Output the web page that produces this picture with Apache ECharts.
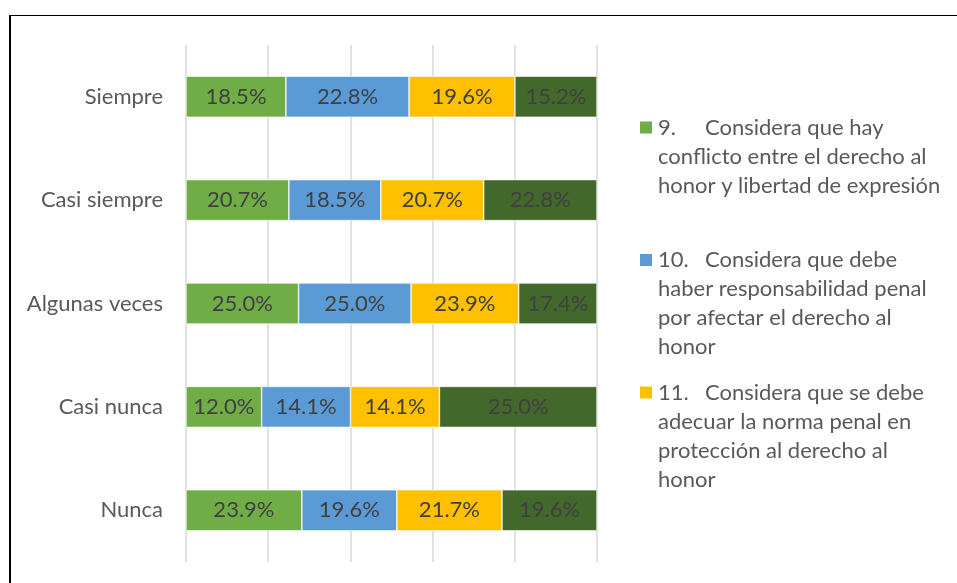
<!DOCTYPE html>
<html>
<head>
<meta charset="utf-8">
<script src="https://cdn.jsdelivr.net/npm/echarts@6/dist/echarts.min.js"></script>
<style>
  html, body { margin: 0; padding: 0; background: #fff; }
  #wrap { position: relative; width: 957px; height: 583px; overflow: hidden; }
  #frame { position: absolute; left: 9px; top: 15px; width: 1200px; height: 1200px;
           border-top: 1px solid #000; border-left: 2px solid #000; }
  #chart { position: absolute; left: 0; top: 0; width: 957px; height: 583px; }
</style>
</head>
<body>
<div id="wrap">
  <div id="frame"></div>
  <div id="chart"></div>
</div>
<script>
// categorias (de arriba a abajo)
const categories = ['Siempre', 'Casi siempre', 'Algunas veces', 'Casi nunca', 'Nunca'];
// valores por pregunta
const p9 = [18.5, 20.7, 25.0, 12.0, 23.9];
const p10 = [22.8, 18.5, 25.0, 14.1, 19.6];
const p11 = [19.6, 20.7, 23.9, 14.1, 21.7];
const p12 = [15.2, 22.8, 17.4, 25.0, 19.6];
// leyenda
const itemNums = ['9.', '10.', '11.', '12.'];
const itemLines = [
  ['Considera que hay', 'conflicto entre el derecho al', 'honor y libertad de expresión'],
  ['Considera que debe', 'haber responsabilidad penal', 'por afectar el derecho al', 'honor'],
  ['Considera que se debe', 'adecuar la norma penal en', 'protección al derecho al', 'honor'],
  ['']
];
const colors = ['#70ad47', '#5b9bd5', '#ffc000', '#43682b'];

const allSeries = [p9, p10, p11, p12];
const names = itemNums.map((n, i) => (n + ' ' + itemLines[i].join(' ')).trim());
const totals = categories.map((c, j) => allSeries.reduce((s, arr) => s + arr[j], 0));

const LH = 29;
const FS = 22;
const FONT = 'Lato, "Open Sans", sans-serif';
const legendCenters = [127.5, 260, 392.5];

const chart = echarts.init(document.getElementById('chart'));
const option = {
  animation: false,
  grid: { left: 186, right: 360, top: 45, bottom: 21 },
  xAxis: {
    type: 'value',
    min: 0,
    max: 100,
    interval: 20,
    axisLabel: { show: false },
    axisLine: { show: false },
    axisTick: { show: false },
    splitLine: { lineStyle: { color: '#d9d9d9', width: 1.5 } }
  },
  yAxis: {
    type: 'category',
    inverse: true,
    data: categories,
    axisLine: { show: false },
    axisTick: { show: false },
    axisLabel: { color: '#595959', fontSize: FS, fontFamily: FONT, margin: 23 }
  },
  legend: [0, 1, 2].map(i => {
    const n = itemLines[i].length;
    return {
      data: [names[i]],
      left: 638,
      top: legendCenters[i] - (n - 0.5) * LH,
      orient: 'vertical',
      padding: 0,
      icon: 'rect',
      itemWidth: 14,
      itemHeight: 14,
      itemGap: 0,
      selectedMode: false,
      formatter: () => '{n|' + itemNums[i] + '}' + itemLines[i].join('\n'),
      textStyle: {
        color: '#595959',
        fontSize: FS,
        fontFamily: FONT,
        lineHeight: LH,
        padding: [(n - 1) * LH, 0, 0, 0],
        rich: {
          n: { width: 47, color: '#595959', fontSize: FS, fontFamily: FONT, lineHeight: LH }
        }
      }
    };
  }),
  series: allSeries.map((arr, i) => ({
    name: names[i],
    type: 'bar',
    stack: 'total',
    barWidth: 41,
    itemStyle: { color: colors[i], borderColor: '#ffffff', borderWidth: 0.6 },
    label: {
      show: true,
      position: 'inside',
      color: '#404040',
      fontSize: FS,
      fontFamily: FONT,
      formatter: p => arr[p.dataIndex].toFixed(1) + '%'
    },
    data: arr.map((v, j) => v / totals[j] * 100)
  }))
};
chart.setOption(option);
</script>
</body>
</html>
